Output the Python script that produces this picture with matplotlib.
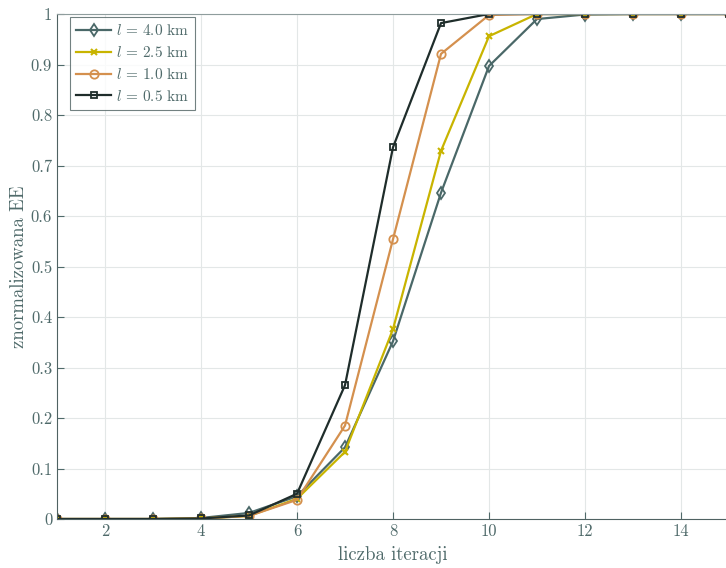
import matplotlib
matplotlib.use("Agg")
import matplotlib.pyplot as plt
import numpy as np

plt.rcParams['font.family'] = 'serif'
plt.rcParams['font.serif'] = ['cmr10', 'DejaVu Serif']
plt.rcParams['mathtext.fontset'] = 'cm'
plt.rcParams['axes.unicode_minus'] = False

iterations = list(range(1, 16))
ee_40 = [0, 0, 0, 0.002, 0.012, 0.045, 0.142, 0.352, 0.646, 0.897, 0.990, 0.999, 1.0, 1.0, 1.0]
ee_25 = [0, 0, 0, 0.001, 0.006, 0.040, 0.133, 0.376, 0.729, 0.956, 1.0, 1.0, 1.0, 1.0, 1.0]
ee_10 = [0, 0, 0, 0.001, 0.006, 0.038, 0.185, 0.554, 0.921, 0.998, 1.0, 1.0, 1.0, 1.0, 1.0]
ee_05 = [0, 0, 0, 0.001, 0.007, 0.050, 0.265, 0.736, 0.982, 1.0, 1.0, 1.0, 1.0, 1.0, 1.0]
labels = [r'$l\,=\,4.0\ \mathrm{km}$', r'$l\,=\,2.5\ \mathrm{km}$',
          r'$l\,=\,1.0\ \mathrm{km}$', r'$l\,=\,0.5\ \mathrm{km}$']

xticks = [2, 4, 6, 8, 10, 12, 14]
yticks = [0, 0.1, 0.2, 0.3, 0.4, 0.5, 0.6, 0.7, 0.8, 0.9, 1]
yticklabels = ['0', '0.1', '0.2', '0.3', '0.4', '0.5', '0.6', '0.7', '0.8', '0.9', '1']

text_color = '#4f6a6a'
fig = plt.figure(figsize=(7.26, 5.68), dpi=100)
ax = fig.add_axes([57/726, 49/568, 672/726, 505/568])

styles = [
    dict(color='#4a6868', marker='d', mfc='none', ms=6.5),
    dict(color='#c8b400', marker='x', ms=4.5, mew=1.5),
    dict(color='#d4904e', marker='o', mfc='none', ms=6),
    dict(color='#1f2d2b', marker='s', mfc='none', ms=5),
]
for y, lab, st in zip([ee_40, ee_25, ee_10, ee_05], labels, styles):
    ax.plot(iterations, y, lw=1.6, label=lab, mew=st.pop('mew', 1.3), **st)

ax.set_xlim(1, 15)
ax.set_ylim(0, 1)
ax.set_xticks(xticks)
ax.set_yticks(yticks)
ax.set_yticklabels(yticklabels)
ax.tick_params(direction='in', colors=text_color, labelsize=12, length=5)
ax.grid(True, color='#e3e7e7', lw=0.8)
for s in ['left', 'bottom']:
    ax.spines[s].set_color('#4f6262')
for s in ['top', 'right']:
    ax.spines[s].set_color('#8f9d9d')
ax.set_xlabel('liczba iteracji', color=text_color, fontsize=13.5, labelpad=5)
ax.set_ylabel('znormalizowana EE', color=text_color, fontsize=13.5, labelpad=2)
leg = ax.legend(loc='upper left', fontsize=11, frameon=True, fancybox=False,
                edgecolor='#4f6262', borderaxespad=0.2, handlelength=2.3,
                labelspacing=0.45, borderpad=0.4, handletextpad=0.3,
                bbox_to_anchor=(0.015, 1.0))
for t in leg.get_texts():
    t.set_color(text_color)
leg.get_frame().set_linewidth(0.8)

fig.savefig('out.png', dpi=100)
